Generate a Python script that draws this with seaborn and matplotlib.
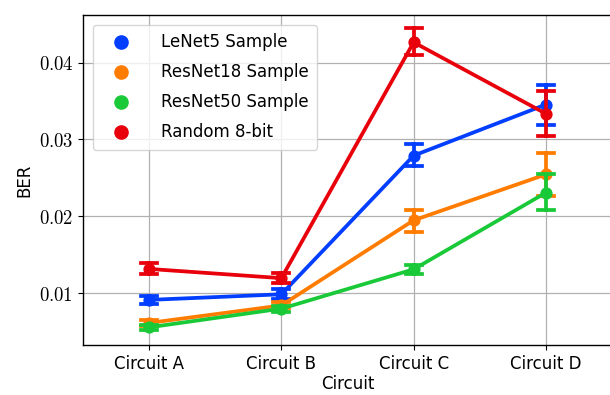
import numpy as np
import pandas as pd
import matplotlib
matplotlib.use("Agg")
import matplotlib.pyplot as plt
import seaborn as sns
from matplotlib.ticker import FuncFormatter
from matplotlib.lines import Line2D

circuits = ["Circuit A", "Circuit B", "Circuit C", "Circuit D"]
samples = ["LeNet5 Sample", "ResNet18 Sample", "ResNet50 Sample", "Random 8-bit"]

# mean BER per circuit
ber_mean = {
    "LeNet5 Sample":   [0.00912, 0.00985, 0.02790, 0.03455],
    "ResNet18 Sample": [0.00612, 0.00840, 0.01948, 0.02545],
    "ResNet50 Sample": [0.00555, 0.00798, 0.01310, 0.02308],
    "Random 8-bit":    [0.01315, 0.01195, 0.04265, 0.03335],
}
# lower / upper end of each error bar
ber_low = {
    "LeNet5 Sample":   [0.00865, 0.00925, 0.02655, 0.03190],
    "ResNet18 Sample": [0.00575, 0.00800, 0.01800, 0.02270],
    "ResNet50 Sample": [0.00520, 0.00760, 0.01255, 0.02080],
    "Random 8-bit":    [0.01245, 0.01130, 0.04100, 0.03040],
}
ber_high = {
    "LeNet5 Sample":   [0.00960, 0.01060, 0.02945, 0.03710],
    "ResNet18 Sample": [0.00650, 0.00880, 0.02080, 0.02825],
    "ResNet50 Sample": [0.00590, 0.00835, 0.01365, 0.02545],
    "Random 8-bit":    [0.01390, 0.01260, 0.04445, 0.03630],
}

rows = []
for s in samples:
    for i, c in enumerate(circuits):
        for v in (ber_low[s][i], ber_mean[s][i], ber_high[s][i]):
            rows.append({"Circuit": c, "Sample": s, "BER": v})
df = pd.DataFrame(rows)

plt.rcParams["mathtext.fontset"] = "cm"
plt.rcParams["font.family"] = "DejaVu Sans"

fig = plt.figure(figsize=(6.1, 3.95), dpi=100)
ax = fig.add_axes([0.1361, 0.1266, 0.8672, 0.8354])
ax.set_position([0.1361, 0.1266, 0.8672, 0.8354])

colors = sns.color_palette("bright", len(samples))
sns.pointplot(data=df, x="Circuit", y="BER", hue="Sample",
              order=circuits, hue_order=samples,
              palette=colors, estimator="median",
              errorbar=lambda v: (v.min(), v.max()),
              capsize=0.12, err_kws={"linewidth": 2.7}, ax=ax)

ax.set_ylim(0.00325, 0.0462)
ax.set_yticks([0.01, 0.02, 0.03, 0.04])
ax.yaxis.set_major_formatter(FuncFormatter(lambda v, p: f"${v:.2f}$"))
ax.grid(True, color="#b0b0b0", linewidth=0.9)
ax.set_axisbelow(True)
ax.tick_params(axis="x", labelsize=12)
ax.tick_params(axis="y", labelsize=13.5)
ax.set_xlabel("Circuit", fontsize=12, labelpad=2)
ax.set_ylabel("BER", fontsize=12)
for sp in ax.spines.values():
    sp.set_linewidth(1.0)
# right spine sits just past the canvas edge in the reference
ax.spines["right"].set_visible(False)

handles = [Line2D([], [], marker="o", linestyle="none", markersize=9.5,
                  color=c) for c in colors]
ax.legend(handles, samples, loc="upper left", fontsize=12, framealpha=0.8,
          edgecolor="#cccccc", borderaxespad=0.6, borderpad=0.5,
          labelspacing=0.72, handlelength=2.4, handletextpad=1.2)

fig.savefig("out.png", dpi=100)
